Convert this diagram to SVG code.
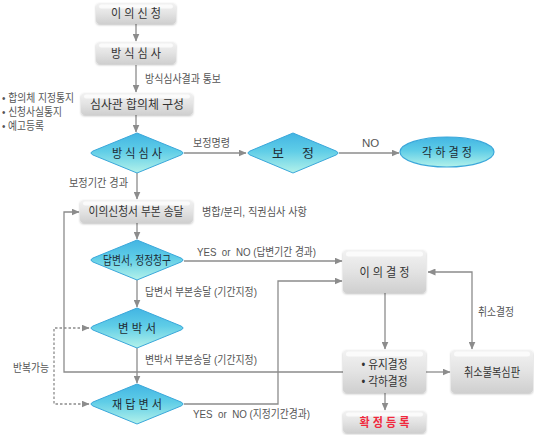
<svg xmlns="http://www.w3.org/2000/svg" width="534" height="435" viewBox="0 0 534 435">
<defs>
<linearGradient id="gGray" x1="0" y1="0" x2="0" y2="1">
<stop offset="0" stop-color="#f2f2f2"/><stop offset="0.5" stop-color="#e3e3e3"/><stop offset="1" stop-color="#cfcfcf"/>
</linearGradient>
<linearGradient id="gCyan" x1="0" y1="0" x2="0" y2="1">
<stop offset="0" stop-color="#42b5e3"/><stop offset="0.45" stop-color="#5fcde7"/><stop offset="1" stop-color="#b3f2ea"/>
</linearGradient>
<filter id="sh" x="-10%" y="-10%" width="120%" height="130%">
<feDropShadow dx="0" dy="1" stdDeviation="0.8" flood-color="#000" flood-opacity="0.25"/>
</filter>
<marker id="ah" markerWidth="8" markerHeight="7" refX="7.5" refY="3.5" orient="auto-start-reverse" markerUnits="userSpaceOnUse">
<path d="M0,0 L8,3.5 L0,7 z" fill="#8c8c8c"/>
</marker>
<style>
.box{fill:url(#gGray);filter:url(#sh)}
.hl{fill:#ffffff;opacity:0.75}
.dia{fill:url(#gCyan);stroke:#3aa7da;stroke-width:1}
.bt{font-family:"Liberation Sans","Noto Sans CJK KR",sans-serif;font-size:12.5px;fill:#333;text-anchor:middle}
.dt{font-family:"Liberation Sans","Noto Sans CJK KR",sans-serif;font-size:12.5px;fill:#1e2b33;text-anchor:middle}
.lb{font-family:"Liberation Sans","Noto Sans CJK KR",sans-serif;font-size:11.5px;fill:#555}
.cn{fill:none;stroke:#8c8c8c;stroke-width:1.3}
.ar{marker-end:url(#ah)}
.dash{stroke-dasharray:2.5,2}
</style>
</defs>
<rect width="534" height="435" fill="#fff"/>

<g id="connectors">
<path class="cn ar" d="M136,24 V41"/>
<path class="cn ar" d="M136,65 V92"/>
<path class="cn ar" d="M136,115 V132"/>
<path class="cn ar" d="M184,153 H246"/>
<path class="cn ar" d="M339,153 H399"/>
<path class="cn ar" d="M137,173 V199"/>
<path class="cn ar" d="M137,223 V239"/>
<path class="cn ar" d="M184,261 H342"/>
<path class="cn ar" d="M137,280 V307"/>
<path class="cn ar" d="M137,348 V383"/>
<path class="cn ar" d="M184,404 H278 V281 H342"/>
<path class="cn ar" d="M385,293 V349"/>
<path class="cn ar" d="M426,372 H450"/>
<path class="cn ar" d="M385,393 V410"/>
<path class="cn ar" d="M428,272 H472 V349" marker-start="url(#ah)"/>
<path class="cn ar" d="M343,372 H64 V212 H79"/>
<path class="cn ar dash" d="M89,328 H54 V404 H89" marker-start="url(#ah)"/>
</g>

<g id="labels">
<text class="lb" x="145" y="83" textLength="76" lengthAdjust="spacingAndGlyphs">방식심사결과 통보</text>
<text class="lb" x="193" y="147" textLength="37" lengthAdjust="spacingAndGlyphs">보정명령</text>
<text class="lb" x="362" y="147">NO</text>
<text class="lb" x="69" y="187" textLength="59" lengthAdjust="spacingAndGlyphs">보정기간 경과</text>
<text class="lb" x="202" y="216" textLength="105" lengthAdjust="spacingAndGlyphs">병합/분리, 직권심사 사항</text>
<text class="lb" x="197" y="256" textLength="119" lengthAdjust="spacingAndGlyphs" xml:space="preserve">YES  or  NO (답변기간 경과)</text>
<text class="lb" x="145" y="296" textLength="112" lengthAdjust="spacingAndGlyphs">답변서 부본송달 (기간지정)</text>
<text class="lb" x="145" y="364" textLength="112" lengthAdjust="spacingAndGlyphs">변박서 부본송달 (기간지정)</text>
<text class="lb" x="193" y="418" textLength="117" lengthAdjust="spacingAndGlyphs" xml:space="preserve">YES  or  NO (지정기간경과)</text>
<text class="lb" x="478" y="316" textLength="36" lengthAdjust="spacingAndGlyphs">취소결정</text>
<text class="lb" x="13" y="372" textLength="36" lengthAdjust="spacingAndGlyphs">반복가능</text>
<text class="lb" x="2" y="102" textLength="72" lengthAdjust="spacingAndGlyphs">• 합의체 지정통지</text>
<text class="lb" x="2" y="116" textLength="60" lengthAdjust="spacingAndGlyphs">• 신청사실통지</text>
<text class="lb" x="2" y="130" textLength="42" lengthAdjust="spacingAndGlyphs">• 예고등록</text>
</g>

<g id="n1"><rect class="box" x="96" y="3" width="80" height="21" rx="4"/><rect class="hl" x="99" y="4.5" width="74" height="4" rx="2"/><text class="bt" x="136" y="18" textLength="50" lengthAdjust="spacingAndGlyphs" xml:space="preserve">이 의 신 청</text></g>
<g id="n2"><rect class="box" x="96" y="42" width="80" height="22" rx="4"/><rect class="hl" x="99" y="43.5" width="74" height="4" rx="2"/><text class="bt" x="136" y="57.5" textLength="50" lengthAdjust="spacingAndGlyphs" xml:space="preserve">방 식 심 사</text></g>
<g id="n3"><rect class="box" x="81" y="93" width="112" height="22" rx="4"/><rect class="hl" x="84" y="94.5" width="106" height="4" rx="2"/><text class="bt" x="137" y="108.5" textLength="94" lengthAdjust="spacingAndGlyphs">심사관 합의체 구성</text></g>
<g id="n4"><path class="dia" d="M137,133 L181,151 Q185,153 181,155 L137,173 L93,155 Q89,153 93,151 Z"/><text class="dt" x="137" y="157.5" textLength="50" lengthAdjust="spacingAndGlyphs" xml:space="preserve">방 식 심 사</text></g>
<g id="n5"><path class="dia" d="M293,133 L336,151 Q340,153 336,155 L293,173 L250,155 Q246,153 250,151 Z"/><text class="dt" x="293" y="157.5" textLength="42" lengthAdjust="spacingAndGlyphs" xml:space="preserve">보     정</text></g>
<g id="n6"><ellipse cx="447" cy="152" rx="47" ry="15" fill="url(#gCyan)" stroke="#3aa7da" stroke-width="1.2"/><text class="dt" x="447" y="156.5" textLength="50" lengthAdjust="spacingAndGlyphs" xml:space="preserve">각 하 결 정</text></g>
<g id="n7"><rect class="box" x="80" y="200" width="113" height="23" rx="4"/><rect class="hl" x="83" y="201.5" width="107" height="4" rx="2"/><text class="bt" x="136" y="216" textLength="95" lengthAdjust="spacingAndGlyphs">이의신청서 부본 송달</text></g>
<g id="n8"><path class="dia" d="M137,240 L181,258 Q185,260 181,262 L137,280 L93,262 Q89,260 93,258 Z"/><text class="dt" x="137" y="264.5" textLength="68" lengthAdjust="spacingAndGlyphs">답변서, 정정청구</text></g>
<g id="n9"><rect class="box" x="343" y="250" width="83" height="43" rx="4"/><rect class="hl" x="346" y="251.5" width="77" height="5" rx="2.5"/><text class="bt" x="384.5" y="276.5" textLength="50" lengthAdjust="spacingAndGlyphs" xml:space="preserve">이 의 결 정</text></g>
<g id="n10"><path class="dia" d="M137,308 L181,326 Q185,328 181,330 L137,348 L93,330 Q89,328 93,326 Z"/><text class="dt" x="137" y="332.5" textLength="38" lengthAdjust="spacingAndGlyphs" xml:space="preserve">변 박 서</text></g>
<g id="n11"><path class="dia" d="M137,384 L181,402 Q185,404 181,406 L137,424 L93,406 Q89,404 93,402 Z"/><text class="dt" x="137" y="408.5" textLength="50" lengthAdjust="spacingAndGlyphs" xml:space="preserve">재 답 변 서</text></g>
<g id="n12"><rect class="box" x="343" y="350" width="83" height="43" rx="4"/><rect class="hl" x="346" y="351.5" width="77" height="5" rx="2.5"/><text class="bt" x="384.5" y="369" textLength="46" lengthAdjust="spacingAndGlyphs">• 유지결정</text><text class="bt" x="384.5" y="386" textLength="46" lengthAdjust="spacingAndGlyphs">• 각하결정</text></g>
<g id="n13"><rect class="box" x="451" y="350" width="82" height="43" rx="4"/><rect class="hl" x="454" y="351.5" width="76" height="5" rx="2.5"/><text class="bt" x="492" y="376.5" textLength="56" lengthAdjust="spacingAndGlyphs">취소불복심판</text></g>
<g id="n14"><rect class="box" x="343" y="411" width="83" height="22" rx="4"/><rect class="hl" x="346" y="412.5" width="77" height="4" rx="2"/><text class="bt" x="384.5" y="426.5" textLength="50" lengthAdjust="spacingAndGlyphs" style="fill:#f0283c;font-weight:bold" xml:space="preserve">확 정 등 록</text></g>
</svg>
